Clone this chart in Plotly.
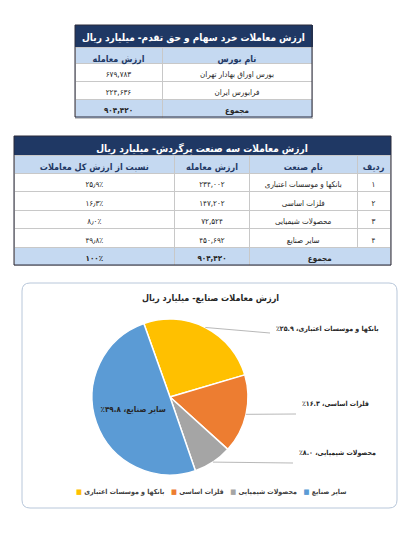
import math
import plotly.graph_objects as go

# ---- data: retail trading (shares & rights), billion rials
exchange_title = "ارزش معاملات خرد سهام و حق تقدم- میلیارد ریال"
exchange_headers = ["ارزش معامله", "نام بورس"]
exchange_names = ["بورس اوراق بهادار تهران", "فرابورس ایران"]
exchange_values = [679783, 224636]
exchange_total = 904420

# ---- data: three most traded industries, billion rials
industry_title = "ارزش معاملات سه صنعت پرگردش- میلیارد ریال"
industry_headers = ["نسبت از ارزش کل معاملات", "ارزش معامله", "نام صنعت", "ردیف"]
industry_names = ["بانکها و موسسات اعتباری", "فلزات اساسی", "محصولات شیمیایی", "سایر صنایع"]
industry_values = [234002, 147202, 72524, 450692]
industry_shares = [25.9, 16.3, 8.0, 49.8]
industry_total = 904420
share_total = 100
total_label = "مجموع"

pie_title = "ارزش معاملات صنایع- میلیارد ریال"
pie_colors = ["#FFC000", "#ED7D31", "#A5A5A5", "#5B9BD5"]

W, H = 417, 544
OFF = 8  # page body margin
FONT = "DejaVu Sans Condensed, DejaVu Sans"
NAVY = "#1F3864"
LIGHT = "#C5D9F1"
GRID = "#C8C8C8"
TXT = "#262626"

FA = str.maketrans("0123456789.,%", "۰۱۲۳۴۵۶۷۸۹٫,٪")


def nb(s):
    # non-breaking spaces keep table cells on one line
    return s.replace(" ", "\u00a0")


def fa_int(v):
    return f"{v:,}".translate(FA)


def fa_pct(p):
    return f"{p:.1f}%".translate(FA)


def px(x):
    return (x - OFF) / W


def py(y):
    return 1 - (y - OFF) / H


def band(values, x0, x1, y0, h, widths, fill, color, size, weight="bold", line=GRID):
    # one header-only table row (title bar, total row)
    return go.Table(
        domain=dict(x=[px(x0), px(x1)], y=[py(y0 + h + 4), py(y0)]),
        columnwidth=widths,
        header=dict(values=values, fill_color=fill, line_color=line,
                    font=dict(family=FONT, size=size, color=color, weight=weight), height=h, align="center"),
        cells=dict(values=[[] for _ in values], height=1),
    )


fig = go.Figure()

# table 1
T1 = dict(x0=75, x1=312, widths=[87, 150])
fig.add_trace(band([nb(exchange_title)], T1["x0"], T1["x1"], 25, 22, None, NAVY, "white", 10, line=NAVY))
n1 = len(exchange_names)
fig.add_trace(go.Table(
    domain=dict(x=[px(T1["x0"]), px(T1["x1"])], y=[py(47 + 16 + 18 * n1 + 4), py(47)]),
    columnwidth=T1["widths"],
    header=dict(values=[nb(h) for h in exchange_headers], fill_color=LIGHT, line_color=GRID,
                font=dict(family=FONT, size=9, color=NAVY, weight="bold"), height=16, align="center"),
    cells=dict(values=[[fa_int(v) for v in exchange_values], [nb(n) for n in exchange_names]],
               fill_color="white", line_color=GRID,
               font=dict(family=FONT, size=8, color=TXT), height=18, align="center"),
))
fig.add_trace(band([fa_int(exchange_total), total_label], T1["x0"], T1["x1"], 47 + 16 + 18 * n1, 19,
                   T1["widths"], LIGHT, TXT, 8))

# table 2
T2 = dict(x0=14, x1=391, widths=[161, 75, 108, 33])
fig.add_trace(band([nb(industry_title)], T2["x0"], T2["x1"], 136, 19, None, NAVY, "white", 10, line=NAVY))
n2 = len(industry_names)
fig.add_trace(go.Table(
    domain=dict(x=[px(T2["x0"]), px(T2["x1"])], y=[py(155 + 18 + 18.5 * n2 + 4), py(155)]),
    columnwidth=T2["widths"],
    header=dict(values=[nb(h) for h in industry_headers], fill_color=LIGHT, line_color=GRID,
                font=dict(family=FONT, size=9, color=NAVY, weight="bold"), height=18, align="center"),
    cells=dict(values=[[fa_pct(s) for s in industry_shares],
                       [fa_int(v) for v in industry_values],
                       [nb(n) for n in industry_names],
                       [str(i + 1).translate(FA) for i in range(n2)]],
               fill_color="white", line_color=GRID,
               font=dict(family=FONT, size=8, color=TXT), height=18.5, align="center"),
))
# total row: name and row-number columns merged
w2 = T2["widths"]
fig.add_trace(band([f"{share_total}%".translate(FA), fa_int(industry_total), total_label],
                   T2["x0"], T2["x1"], 155 + 18 + 18.5 * n2, 18, [w2[0], w2[1], w2[2] + w2[3]], LIGHT, TXT, 8))

# pie
PIE_CX, PIE_CY, PIE_R = 170, 397, 78
ROT = -19.6
pie_texts = ["\u202b" + f"{n}، {s:.1f}%".translate(str.maketrans("0123456789%", "۰۱۲۳۴۵۶۷۸۹٪")) + "\u202c"
             for n, s in zip(industry_names, industry_shares)]
fig.add_trace(go.Pie(
    labels=industry_names, values=industry_values, sort=False, direction="clockwise", rotation=ROT,
    marker=dict(colors=pie_colors, line=dict(color="white", width=1.5)),
    text=pie_texts, textinfo="text", textposition=["none", "none", "none", "inside"],
    insidetextorientation="horizontal",
    insidetextfont=dict(family=FONT, size=8, color=TXT, weight="bold"),
    domain=dict(x=[px(PIE_CX - PIE_R), px(PIE_CX + PIE_R)], y=[py(PIE_CY + PIE_R), py(PIE_CY - PIE_R)]),
    showlegend=False, hoverinfo="label+value+percent",
))

shapes = []
annotations = []

# table borders
for x0, y0, x1, y1 in [(75, 25, 312, 117), (14, 136, 391, 265)]:
    shapes.append(dict(type="rect", xref="paper", yref="paper", x0=px(x0), x1=px(x1), y0=py(y0), y1=py(y1),
                       line=dict(color="#2B2B3B", width=1)))

# rounded chart box
bx0, by0, bx1, by1, r = 22, 283, 397, 508, 8
path = (f"M {px(bx0 + r)} {py(by0)} L {px(bx1 - r)} {py(by0)} Q {px(bx1)} {py(by0)} {px(bx1)} {py(by0 + r)} "
        f"L {px(bx1)} {py(by1 - r)} Q {px(bx1)} {py(by1)} {px(bx1 - r)} {py(by1)} "
        f"L {px(bx0 + r)} {py(by1)} Q {px(bx0)} {py(by1)} {px(bx0)} {py(by1 - r)} "
        f"L {px(bx0)} {py(by0 + r)} Q {px(bx0)} {py(by0)} {px(bx0 + r)} {py(by0)} Z")
shapes.append(dict(type="path", xref="paper", yref="paper", path=path, line=dict(color="#B8C7DA", width=1)))

annotations.append(dict(text=f"<b>{pie_title}</b>", x=px(210), y=py(298), xref="paper", yref="paper",
                        showarrow=False, font=dict(family=FONT, size=9, color=TXT)))

# outside labels with leader lines
label_left = [(274, 329), (300, 410), (297, 459)]
total = sum(industry_values)
cum = 0
for i, v in enumerate(industry_values):
    mid = math.radians(ROT + (cum + v / 2) / total * 360)
    cum += v
    if i >= len(label_left):
        continue
    sx = PIE_CX + PIE_R * math.sin(mid)
    sy = PIE_CY - PIE_R * math.cos(mid)
    lx, ly = label_left[i]
    shapes.append(dict(type="line", xref="paper", yref="paper", x0=px(sx), y0=py(sy), x1=px(lx - 4), y1=py(ly + 4),
                       line=dict(color="#A6A6A6", width=0.8)))
    annotations.append(dict(text=f"<b>{pie_texts[i]}</b>", x=px(lx), y=py(ly), xref="paper", yref="paper",
                            xanchor="left", showarrow=False, font=dict(family=FONT, size=7, color=TXT)))

# legend (marker left of each name, entries left to right)
legend_text = "\u00a0\u00a0\u00a0".join(
    f"\u200e<span style='color:{c}'>■</span> {n}" for n, c in zip(industry_names, pie_colors))
annotations.append(dict(text=f"<b>{legend_text}</b>", x=px(211), y=py(498), xref="paper", yref="paper",
                        showarrow=False, font=dict(family=FONT, size=7, color="#404040")))

fig.update_layout(
    width=W, height=H, margin=dict(l=0, r=0, t=0, b=0),
    paper_bgcolor="white", plot_bgcolor="white",
    shapes=shapes, annotations=annotations, showlegend=False,
)

fig.write_html("out.html")
